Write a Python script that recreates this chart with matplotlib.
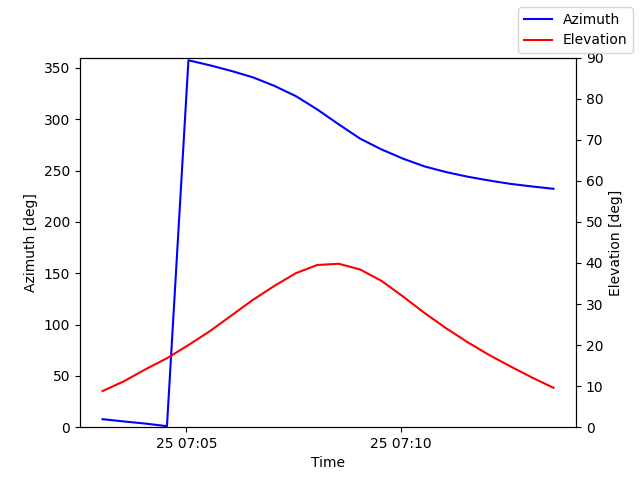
import matplotlib
matplotlib.use("Agg")
import matplotlib.pyplot as plt
import matplotlib.dates as mdates
import pandas as pd

start_time = "2024-01-25 07:03:03"
n_points = 22
azimuth = [7.8, 5.6, 3.5, 1.0, 357.4, 352.5, 347.0, 340.8, 332.5, 322.5, 309.5,
           295.0, 281.0, 270.5, 261.5, 254.0, 248.5, 244.0, 240.3, 237.0, 234.5, 232.2]
elevation = [8.8, 11.2, 14.1, 16.8, 20.0, 23.4, 27.2, 31.0, 34.4, 37.5, 39.5,
             39.8, 38.4, 35.6, 31.8, 27.8, 24.1, 20.7, 17.6, 14.8, 12.1, 9.6]

times = pd.date_range(start=start_time, periods=n_points, freq="30s").to_pydatetime()

fig, ax = plt.subplots(figsize=(6.4, 4.8), dpi=100)
ax.plot(times, azimuth, color="blue", label="Azimuth")
ax.set_ylim(0, 360)
ax.set_ylabel("Azimuth [deg]")
ax.set_xlabel("Time")

ax2 = ax.twinx()
ax2.plot(times, elevation, color="red", label="Elevation")
ax2.set_ylim(0, 90)
ax2.set_ylabel("Elevation [deg]")

ax.xaxis.set_major_locator(mdates.MinuteLocator(byminute=range(0, 60, 5)))
ax.xaxis.set_major_formatter(mdates.DateFormatter("%d %H:%M"))

fig.legend()
fig.savefig("out.png")
